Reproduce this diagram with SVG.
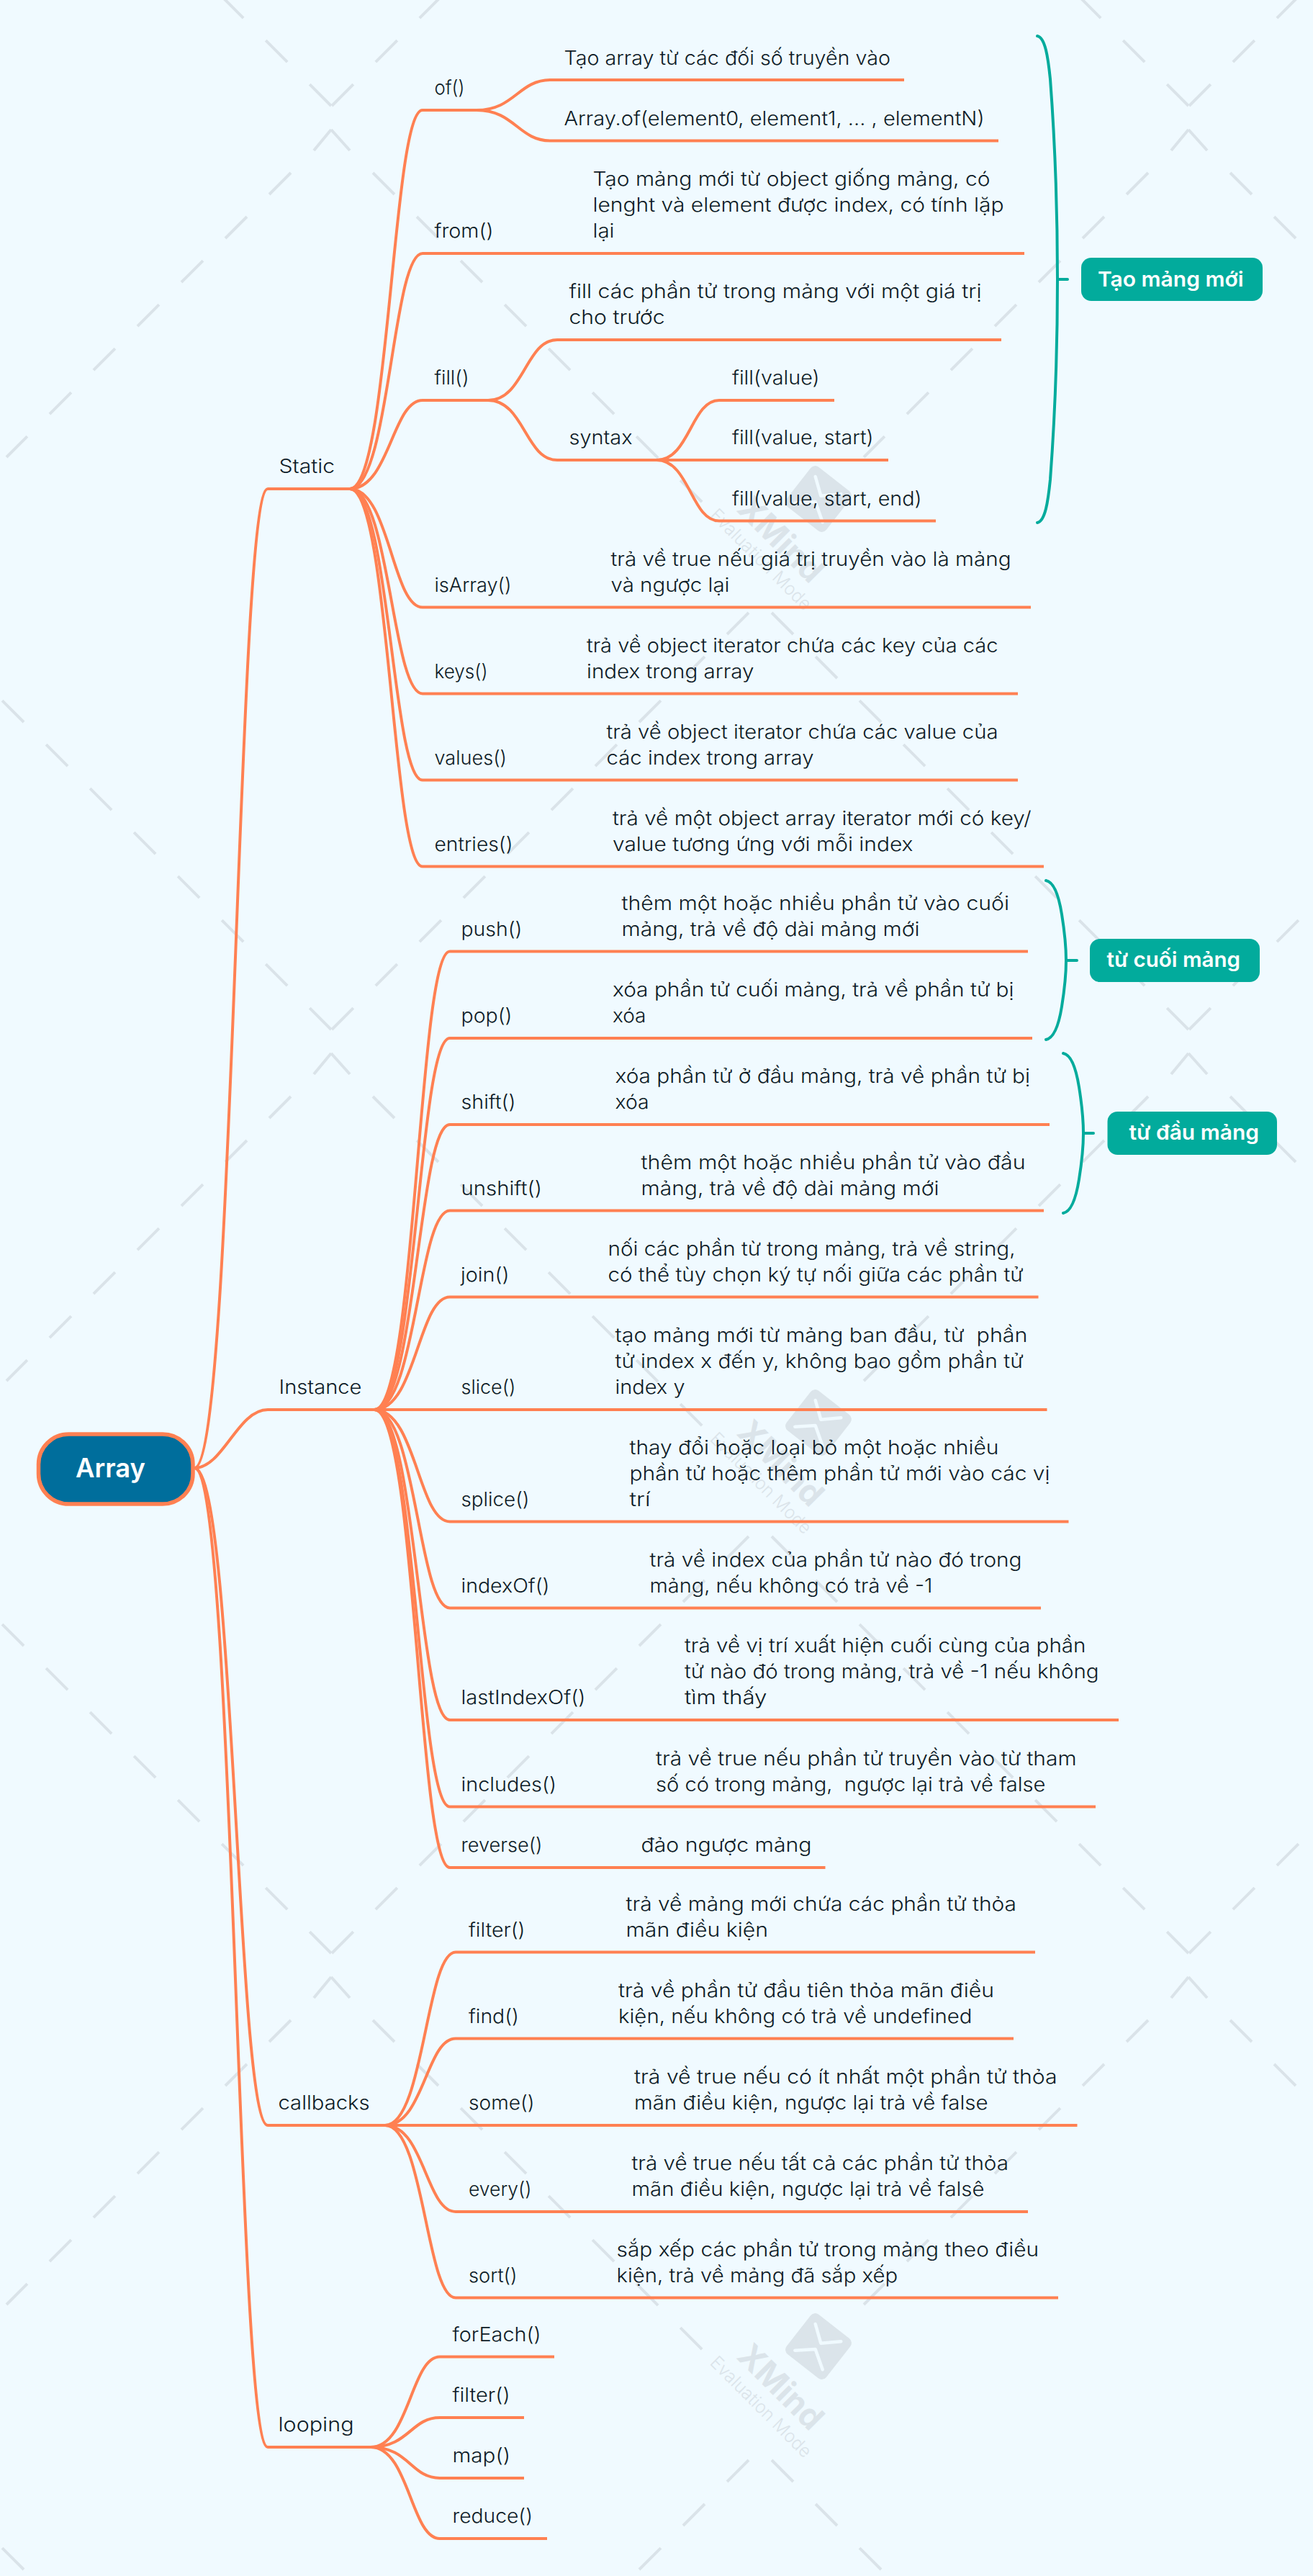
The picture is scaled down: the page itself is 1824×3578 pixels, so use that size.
<svg xmlns="http://www.w3.org/2000/svg" width="1824" height="3578" viewBox="0 0 1824 3578">
<style>
text{font-family:"Inter","Noto Sans","Liberation Sans",sans-serif;font-size:27px;font-weight:350;fill:#0d1b26;white-space:pre}
.c{fill:none;stroke:#ff8052;stroke-width:4;stroke-linecap:butt}
.b{fill:none;stroke:#02ab9c;stroke-width:4;stroke-linecap:round}
.s{fill:#02ab9c}
.st{fill:#fff;font-weight:600;font-size:29px}
.d{fill:none;stroke:#dae3e9;stroke-width:4}
.da{stroke-dasharray:42.4 43.9}
.wm1{fill:#dbe4ea;font-weight:700;font-size:46px}
.wm2{fill:#dbe4ea;font-size:25px}
</style>
<defs>
<g id="tile">
<path class="d" d="M460 180L486 209M460 180L436 209"/>
<path class="d da" d="M518 240L976 698"/>
<path class="d da" d="M404 240L9 635"/>
<path class="d da" d="M1040 851L461 1430"/>
<path class="d da" d="M1072 851L1651 1430"/>
</g>
<g id="logo">
<rect x="-35" y="-35" width="70" height="70" rx="8" transform="rotate(38)" fill="#dbe4ea"/>
<path d="M-4.3 -31L3.3 -4.3L31.3 -6.7M-32.7 5.7L-4.3 4L5.7 32.3" fill="none" stroke="#f0faff" stroke-width="4.5" stroke-linecap="round" stroke-linejoin="round"/>
</g>
</defs>
<rect width="1824" height="3578" fill="#f0faff"/>
<g id="watermark">
<use href="#tile" x="-1191" y="-1283"/><use href="#tile" x="0" y="-1283"/><use href="#tile" x="1191" y="-1283"/>
<use href="#tile" x="-1191" y="0"/><use href="#tile" x="0" y="0"/><use href="#tile" x="1191" y="0"/>
<use href="#tile" x="-1191" y="1283"/><use href="#tile" x="0" y="1283"/><use href="#tile" x="1191" y="1283"/>
<use href="#tile" x="-1191" y="2566"/><use href="#tile" x="0" y="2566"/><use href="#tile" x="1191" y="2566"/>
<use href="#logo" x="1137" y="693"/>
<text class="wm1" transform="translate(1022 709) rotate(45)" textLength="146" lengthAdjust="spacingAndGlyphs">XMind</text>
<text class="wm2" transform="translate(985 717) rotate(45)" textLength="187" lengthAdjust="spacingAndGlyphs">Evaluation Mode</text>
<use href="#logo" x="1137" y="1976"/>
<text class="wm1" transform="translate(1022 1992) rotate(45)" textLength="146" lengthAdjust="spacingAndGlyphs">XMind</text>
<text class="wm2" transform="translate(985 2000) rotate(45)" textLength="187" lengthAdjust="spacingAndGlyphs">Evaluation Mode</text>
<use href="#logo" x="1137" y="3259"/>
<text class="wm1" transform="translate(1022 3275) rotate(45)" textLength="146" lengthAdjust="spacingAndGlyphs">XMind</text>
<text class="wm2" transform="translate(985 3283) rotate(45)" textLength="187" lengthAdjust="spacingAndGlyphs">Evaluation Mode</text>
</g>
<g id="connectors">
<path class="c" d="M270 2039C326 2039 329 679 372 679H486"/>
<path class="c" d="M270 2039C310 2039 330 1958 372 1958H520"/>
<path class="c" d="M270 2039C326 2039 329 2952 372 2952H535"/>
<path class="c" d="M270 2039C326 2039 329 3399 372 3399H515"/>
<path class="c" d="M486 679C541 679 545 153 587 153H662"/>
<path class="c" d="M486 679C541 679 545 352 587 352H1423"/>
<path class="c" d="M486 679C541 679 545 556 587 556H678"/>
<path class="c" d="M486 679C541 679 545 843.5 587 843.5H1432"/>
<path class="c" d="M486 679C541 679 545 963.5 587 963.5H1414"/>
<path class="c" d="M486 679C541 679 545 1083.5 587 1083.5H1414"/>
<path class="c" d="M486 679C541 679 545 1203.5 587 1203.5H1450"/>
<path class="c" d="M662 153C715 153 720 111 765 111H1256"/>
<path class="c" d="M662 153C715 153 720 195.500 765 195.500H1387"/>
<path class="c" d="M678 556C728 556 730 472 774 472H1391"/>
<path class="c" d="M678 556C728 556 730 639 774 639H1234"/>
<path class="c" d="M912 639C958 639 960 556 999 556H1159"/>
<path class="c" d="M912 639C958 639 960 723.500 999 723.500H1300"/>
<path class="c" d="M520 1958C578 1958 581 1321.500 625 1321.500H1428"/>
<path class="c" d="M520 1958C578 1958 581 1442 625 1442H1434"/>
<path class="c" d="M520 1958C578 1958 581 1562 625 1562H1458"/>
<path class="c" d="M520 1958C578 1958 581 1681.500 625 1681.500H1450"/>
<path class="c" d="M520 1958C578 1958 581 1801.500 625 1801.500H1442.500"/>
<path class="c" d="M520 1958H1454.500"/>
<path class="c" d="M520 1958C578 1958 581 2113.500 625 2113.500H1484.500"/>
<path class="c" d="M520 1958C578 1958 581 2233.500 625 2233.500H1446"/>
<path class="c" d="M520 1958C578 1958 581 2389 625 2389H1554"/>
<path class="c" d="M520 1958C578 1958 581 2509.500 625 2509.500H1522"/>
<path class="c" d="M520 1958C578 1958 581 2594 625 2594H1146.500"/>
<path class="c" d="M535 2952C589 2952 592 2711.500 633 2711.500H1438"/>
<path class="c" d="M535 2952C589 2952 592 2831.500 633 2831.500H1408"/>
<path class="c" d="M535 2952H1496.500"/>
<path class="c" d="M535 2952C589 2952 592 3072 633 3072H1428"/>
<path class="c" d="M535 2952C589 2952 592 3191.500 633 3191.500H1470"/>
<path class="c" d="M515 3399C568 3399 571 3273.500 611 3273.500H770"/>
<path class="c" d="M515 3399C568 3399 571 3358 611 3358H728"/>
<path class="c" d="M515 3399C568 3399 571 3442 611 3442H728"/>
<path class="c" d="M515 3399C568 3399 571 3526 611 3526H760"/>
</g>
<g id="boundaries">
<path class="b" d="M1441 50C1452 52 1456 80 1459 110C1465 190 1469 300 1469 388C1469 476 1465 586 1459 666C1456 696 1452 724 1441 726M1469 388H1483"/>
<path class="b" d="M1453 1223C1464 1225 1471 1245 1475 1270C1479 1295 1481 1315 1481 1334C1481 1353 1479 1373 1475 1398C1471 1423 1464 1442 1453 1444M1481 1334H1496"/>
<path class="b" d="M1477 1463C1488 1465 1495 1485 1499 1510C1503 1535 1505 1555 1505 1574C1505 1593 1503 1613 1499 1638C1495 1663 1488 1683 1477 1685M1505 1574H1519"/>
</g>
<g id="root"><rect x="53.5" y="1992" width="214.500" height="97" rx="42" fill="#006e9c" stroke="#ff8052" stroke-width="5.500"/><text x="105" y="2051.500" style="fill:#fff;font-weight:600;font-size:37px" textLength="97" lengthAdjust="spacingAndGlyphs">Array</text></g>
<g id="nodes" transform="translate(-1.5 -0.5)">
<g id="n-static"><text x="389" y="657.500" textLength="77.500" lengthAdjust="spacingAndGlyphs">Static</text></g>
<g id="n-instance"><text x="389" y="1936.500" textLength="115" lengthAdjust="spacingAndGlyphs">Instance</text></g>
<g id="n-callbacks"><text x="388" y="2930.500" textLength="127" lengthAdjust="spacingAndGlyphs">callbacks</text></g>
<g id="n-looping"><text x="388" y="3377.500" textLength="105" lengthAdjust="spacingAndGlyphs">looping</text></g>
<g id="n-of"><text x="605" y="131.500" textLength="42" lengthAdjust="spacingAndGlyphs">of()</text></g>
<g id="n-of1"><text x="785" y="90.500" textLength="453.500" lengthAdjust="spacingAndGlyphs">Tạo array từ các đối số truyền vào</text></g>
<g id="n-of2"><text x="785" y="174" textLength="584" lengthAdjust="spacingAndGlyphs">Array.of(element0, element1, ... , elementN)</text></g>
<g id="n-from"><text x="605" y="330.500" textLength="82" lengthAdjust="spacingAndGlyphs">from()</text></g>
<g id="n-from1"><text x="825" y="258.500" textLength="552" lengthAdjust="spacingAndGlyphs">Tạo mảng mới từ object giống mảng, có</text><text x="825" y="294.500" textLength="571" lengthAdjust="spacingAndGlyphs">lenght và element được index, có tính lặp</text><text x="825" y="330.500" textLength="30" lengthAdjust="spacingAndGlyphs">lại</text></g>
<g id="n-fill"><text x="605" y="534.500" textLength="48" lengthAdjust="spacingAndGlyphs">fill()</text></g>
<g id="n-fill1"><text x="792" y="414.500" textLength="573" lengthAdjust="spacingAndGlyphs">fill các phần tử trong mảng với một giá trị</text><text x="792" y="450.500" textLength="133" lengthAdjust="spacingAndGlyphs">cho trước</text></g>
<g id="n-syntax"><text x="792" y="617.500" textLength="88" lengthAdjust="spacingAndGlyphs">syntax</text></g>
<g id="n-fv"><text x="1018.500" y="534.500" textLength="121.500" lengthAdjust="spacingAndGlyphs">fill(value)</text></g>
<g id="n-fvs"><text x="1018.500" y="617.500" textLength="196.500" lengthAdjust="spacingAndGlyphs">fill(value, start)</text></g>
<g id="n-fvse"><text x="1018.500" y="702" textLength="263.500" lengthAdjust="spacingAndGlyphs">fill(value, start, end)</text></g>
<g id="n-isarray"><text x="605" y="822" textLength="107" lengthAdjust="spacingAndGlyphs">isArray()</text></g>
<g id="n-isarray1"><text x="850" y="786" textLength="556" lengthAdjust="spacingAndGlyphs">trả về true nếu giá trị truyền vào là mảng</text><text x="850" y="822" textLength="165" lengthAdjust="spacingAndGlyphs">và ngược lại</text></g>
<g id="n-keys"><text x="605" y="942" textLength="74" lengthAdjust="spacingAndGlyphs">keys()</text></g>
<g id="n-keys1"><text x="816.500" y="906" textLength="571.500" lengthAdjust="spacingAndGlyphs">trả về object iterator chứa các key của các</text><text x="816.500" y="942" textLength="232.500" lengthAdjust="spacingAndGlyphs">index trong array</text></g>
<g id="n-values"><text x="605" y="1062" textLength="100.500" lengthAdjust="spacingAndGlyphs">values()</text></g>
<g id="n-values1"><text x="844" y="1026" textLength="544" lengthAdjust="spacingAndGlyphs">trả về object iterator chứa các value của</text><text x="844" y="1062" textLength="288" lengthAdjust="spacingAndGlyphs">các index trong array</text></g>
<g id="n-entries"><text x="605" y="1182" textLength="109" lengthAdjust="spacingAndGlyphs">entries()</text></g>
<g id="n-entries1"><text x="852.500" y="1146" textLength="581.500" lengthAdjust="spacingAndGlyphs">trả về một object array iterator mới có key/</text><text x="852.500" y="1182" textLength="417.500" lengthAdjust="spacingAndGlyphs">value tương ứng với mỗi index</text></g>
<g id="n-push"><text x="642" y="1300" textLength="85" lengthAdjust="spacingAndGlyphs">push()</text></g>
<g id="n-push1"><text x="865" y="1264" textLength="538.500" lengthAdjust="spacingAndGlyphs">thêm một hoặc nhiều phần tử vào cuối</text><text x="865" y="1300" textLength="414" lengthAdjust="spacingAndGlyphs">mảng, trả về độ dài mảng mới</text></g>
<g id="n-pop"><text x="642" y="1420.500" textLength="71" lengthAdjust="spacingAndGlyphs">pop()</text></g>
<g id="n-pop1"><text x="852.500" y="1384.500" textLength="557.500" lengthAdjust="spacingAndGlyphs">xóa phần tử cuối mảng, trả về phần tử bị</text><text x="852.500" y="1420.500" textLength="46.500" lengthAdjust="spacingAndGlyphs">xóa</text></g>
<g id="n-shift"><text x="642" y="1540.500" textLength="76" lengthAdjust="spacingAndGlyphs">shift()</text></g>
<g id="n-shift1"><text x="856" y="1504.500" textLength="576.500" lengthAdjust="spacingAndGlyphs">xóa phần tử ở đầu mảng, trả về phần tử bị</text><text x="856" y="1540.500" textLength="47" lengthAdjust="spacingAndGlyphs">xóa</text></g>
<g id="n-unshift"><text x="642" y="1660" textLength="112.500" lengthAdjust="spacingAndGlyphs">unshift()</text></g>
<g id="n-unshift1"><text x="892" y="1624" textLength="534" lengthAdjust="spacingAndGlyphs">thêm một hoặc nhiều phần tử vào đầu</text><text x="892" y="1660" textLength="414" lengthAdjust="spacingAndGlyphs">mảng, trả về độ dài mảng mới</text></g>
<g id="n-join"><text x="641.500" y="1780" textLength="67.500" lengthAdjust="spacingAndGlyphs">join()</text></g>
<g id="n-join1"><text x="846" y="1744" textLength="566" lengthAdjust="spacingAndGlyphs">nối các phần từ trong mảng, trả về string,</text><text x="846" y="1780" textLength="577" lengthAdjust="spacingAndGlyphs">có thể tùy chọn ký tự nối giữa các phần tử</text></g>
<g id="n-slice"><text x="642" y="1936.500" textLength="76" lengthAdjust="spacingAndGlyphs">slice()</text></g>
<g id="n-slice1"><text x="856" y="1864.500" textLength="573" lengthAdjust="spacingAndGlyphs">tạo mảng mới từ mảng ban đầu, từ  phần</text><text x="856" y="1900.500" textLength="567" lengthAdjust="spacingAndGlyphs">tử index x đến y, không bao gồm phần tử</text><text x="856" y="1936.500" textLength="97" lengthAdjust="spacingAndGlyphs">index y</text></g>
<g id="n-splice"><text x="642" y="2092" textLength="95" lengthAdjust="spacingAndGlyphs">splice()</text></g>
<g id="n-splice1"><text x="876" y="2020" textLength="513" lengthAdjust="spacingAndGlyphs">thay đổi hoặc loại bỏ một hoặc nhiều</text><text x="876" y="2056" textLength="584" lengthAdjust="spacingAndGlyphs">phần tử hoặc thêm phần tử mới vào các vị</text><text x="876" y="2092" textLength="29" lengthAdjust="spacingAndGlyphs">trí</text></g>
<g id="n-indexof"><text x="642" y="2212" textLength="123" lengthAdjust="spacingAndGlyphs">indexOf()</text></g>
<g id="n-indexof1"><text x="904" y="2176" textLength="517" lengthAdjust="spacingAndGlyphs">trả về index của phần tử nào đó trong</text><text x="904" y="2212" textLength="393" lengthAdjust="spacingAndGlyphs">mảng, nếu không có trả về -1</text></g>
<g id="n-lastindexof"><text x="642" y="2367.500" textLength="173" lengthAdjust="spacingAndGlyphs">lastIndexOf()</text></g>
<g id="n-lastindexof1"><text x="952.500" y="2295.500" textLength="557.500" lengthAdjust="spacingAndGlyphs">trả về vị trí xuất hiện cuối cùng của phần</text><text x="952.500" y="2331.500" textLength="575.500" lengthAdjust="spacingAndGlyphs">tử nào đó trong mảng, trả về -1 nếu không</text><text x="952.500" y="2367.500" textLength="114.500" lengthAdjust="spacingAndGlyphs">tìm thấy</text></g>
<g id="n-includes"><text x="642" y="2488" textLength="132.500" lengthAdjust="spacingAndGlyphs">includes()</text></g>
<g id="n-includes1"><text x="912.500" y="2452" textLength="584.500" lengthAdjust="spacingAndGlyphs">trả về true nếu phần tử truyền vào từ tham</text><text x="912.500" y="2488" textLength="541.500" lengthAdjust="spacingAndGlyphs">số có trong mảng,  ngược lại trả về false</text></g>
<g id="n-reverse"><text x="642" y="2572.500" textLength="113" lengthAdjust="spacingAndGlyphs">reverse()</text></g>
<g id="n-reverse1"><text x="892" y="2572.500" textLength="237" lengthAdjust="spacingAndGlyphs">đảo ngược mảng</text></g>
<g id="n-filter"><text x="652.500" y="2690" textLength="78.500" lengthAdjust="spacingAndGlyphs">filter()</text></g>
<g id="n-filter1"><text x="871" y="2654" textLength="542.500" lengthAdjust="spacingAndGlyphs">trả về mảng mới chứa các phần tử thỏa</text><text x="871" y="2690" textLength="197.500" lengthAdjust="spacingAndGlyphs">mãn điều kiện</text></g>
<g id="n-find"><text x="652.500" y="2810" textLength="70" lengthAdjust="spacingAndGlyphs">find()</text></g>
<g id="n-find1"><text x="860.500" y="2774" textLength="522" lengthAdjust="spacingAndGlyphs">trả về phần tử đầu tiên thỏa mãn điều</text><text x="860.500" y="2810" textLength="491.500" lengthAdjust="spacingAndGlyphs">kiện, nếu không có trả về undefined</text></g>
<g id="n-some"><text x="652.500" y="2930.500" textLength="91.500" lengthAdjust="spacingAndGlyphs">some()</text></g>
<g id="n-some1"><text x="882.500" y="2894.500" textLength="587.500" lengthAdjust="spacingAndGlyphs">trả về true nếu có ít nhất một phần tử thỏa</text><text x="882.500" y="2930.500" textLength="491.500" lengthAdjust="spacingAndGlyphs">mãn điều kiện, ngược lại trả về false</text></g>
<g id="n-every"><text x="652.500" y="3050.500" textLength="87.500" lengthAdjust="spacingAndGlyphs">every()</text></g>
<g id="n-every1"><text x="879" y="3014.500" textLength="523.500" lengthAdjust="spacingAndGlyphs">trả về true nếu tất cả các phần tử thỏa</text><text x="879" y="3050.500" textLength="490" lengthAdjust="spacingAndGlyphs">mãn điều kiện, ngược lại trả về falsê</text></g>
<g id="n-sort"><text x="652.500" y="3170" textLength="67.500" lengthAdjust="spacingAndGlyphs">sort()</text></g>
<g id="n-sort1"><text x="858" y="3134" textLength="586.500" lengthAdjust="spacingAndGlyphs">sắp xếp các phần tử trong mảng theo điều</text><text x="858" y="3170" textLength="390.500" lengthAdjust="spacingAndGlyphs">kiện, trả về mảng đã sắp xếp</text></g>
<g id="n-foreach"><text x="630" y="3252" textLength="123" lengthAdjust="spacingAndGlyphs">forEach()</text></g>
<g id="n-filter2"><text x="630" y="3336.500" textLength="80" lengthAdjust="spacingAndGlyphs">filter()</text></g>
<g id="n-map"><text x="630" y="3420.500" textLength="80.500" lengthAdjust="spacingAndGlyphs">map()</text></g>
<g id="n-reduce"><text x="630" y="3504.500" textLength="111.500" lengthAdjust="spacingAndGlyphs">reduce()</text></g>
</g>
<g id="s-new"><rect class="s" x="1502" y="358" width="252" height="60" rx="14"/><text class="st" x="1525" y="398" textLength="202.500" lengthAdjust="spacingAndGlyphs">Tạo mảng mới</text></g>
<g id="s-end"><rect class="s" x="1514" y="1304" width="236" height="60" rx="14"/><text class="st" x="1537.500" y="1343" textLength="185.500" lengthAdjust="spacingAndGlyphs">từ cuối mảng</text></g>
<g id="s-start"><rect class="s" x="1538.500" y="1544" width="235.500" height="60" rx="14"/><text class="st" x="1568.500" y="1583" textLength="180.500" lengthAdjust="spacingAndGlyphs">từ đầu mảng</text></g>
</svg>
